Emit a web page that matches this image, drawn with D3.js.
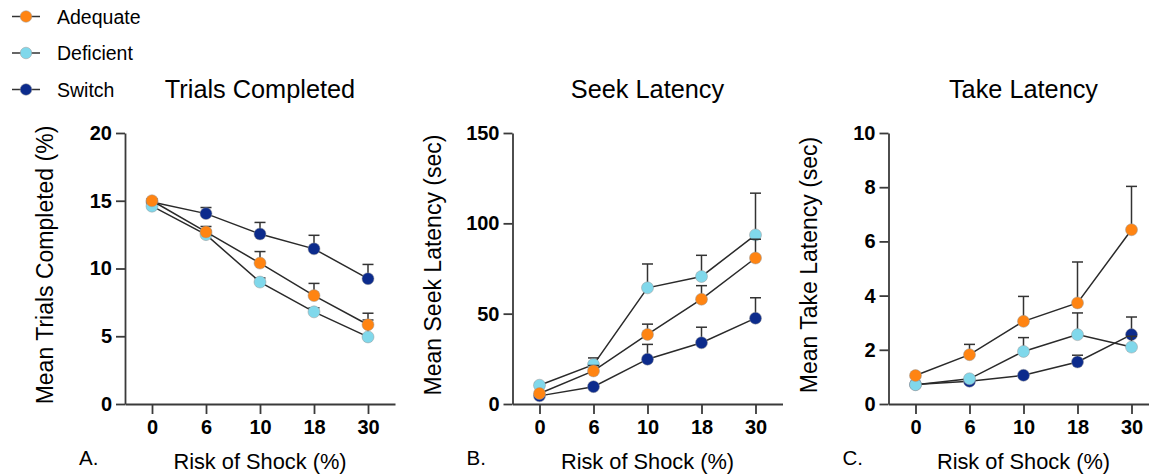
<!DOCTYPE html>
<html>
<head>
<meta charset="utf-8">
<script src="https://cdn.jsdelivr.net/npm/d3@7"></script>
<style>
  body { margin: 0; background: #fff; }
  svg { font-family: "Liberation Sans", Arial, sans-serif; display: block; }
  .axis path, .axis line { stroke: #3a3a3a; stroke-width: 1.8; }
  .axis text { font-size: 20px; font-weight: bold; fill: #000; font-family: "Liberation Sans", Arial, sans-serif; }
</style>
</head>
<body>
<div class="canvas"></div>
<script>
// categories (risk of shock, %)
const risk = ['0', '6', '10', '18', '30'];

// series names + colors
const groups = ['Adequate', 'Deficient', 'Switch'];
const colors = { Adequate: '#ff8412', Deficient: '#80d8eb', Switch: '#0c2b8c' };

// A. trials completed (mean, sem)
const trialsAdequate = [15.0, 12.7, 10.4, 8.0, 5.85];
const trialsAdequateSem = [0.15, 0.4, 0.85, 0.9, 0.85];
const trialsDeficient = [14.6, 12.5, 9.0, 6.8, 4.95];
const trialsDeficientSem = [0.2, 0.3, 0.3, 0.3, 1.25];
const trialsSwitch = [14.9, 14.05, 12.55, 11.45, 9.25];
const trialsSwitchSem = [0.1, 0.45, 0.85, 1.0, 1.05];

// B. seek latency
const seekAdequate = [5.8, 18.3, 38.5, 58, 80.8];
const seekAdequateSem = [1, 3, 5.7, 7.5, 10.4];
const seekDeficient = [10.4, 21.8, 64.3, 70.6, 93.6];
const seekDeficientSem = [1, 3.7, 13.2, 11.7, 23.1];
const seekSwitch = [4.5, 9.6, 24.8, 33.9, 47.5];
const seekSwitchSem = [0.5, 1, 8.2, 8.6, 11.3];

// C. take latency
const takeAdequate = [1.05, 1.82, 3.05, 3.73, 6.43];
const takeAdequateSem = [0.05, 0.38, 0.92, 1.51, 1.6];
const takeDeficient = [0.71, 0.93, 1.94, 2.56, 2.1];
const takeDeficientSem = [0.03, 0.05, 0.51, 0.8, 0.4];
const takeSwitch = [0.72, 0.84, 1.06, 1.55, 2.56];
const takeSwitchSem = [0.03, 0.05, 0.05, 0.25, 0.65];

const yTicksTrials = [0, 5, 10, 15, 20];
const yTicksSeek = [0, 50, 100, 150];
const yTicksTake = [0, 2, 4, 6, 8, 10];

let width = 1149, height = 474;
let plotTop = 133, plotH = 271, plotW = 270;

const svg = d3.select('.canvas')
    .append('svg')
    .attr('width', width)
    .attr('height', height);

// legend
groups.forEach((g, i) => {
    let ly = 16.5 + i * 36.5;
    let lg = svg.append('g').attr('transform', `translate(0, ${ly})`);
    lg.append('line')
        .attr('x1', 12).attr('x2', 40)
        .attr('stroke', '#333').attr('stroke-width', 1.5);
    lg.append('circle')
        .attr('cx', 26).attr('r', 5.8)
        .attr('fill', colors[g]).attr('stroke', '#999').attr('stroke-width', 0.5);
    lg.append('text')
        .attr('x', 57).attr('y', 7)
        .attr('font-size', '19.5px')
        .attr('fill', '#000')
        .text(g);
});

const panels = [
    {
        left: 125, title: 'Trials Completed', ylab: 'Mean Trials Completed (%)', letter: 'A.',
        max: 20, ticks: yTicksTrials,
        series: { Adequate: [trialsAdequate, trialsAdequateSem], Deficient: [trialsDeficient, trialsDeficientSem], Switch: [trialsSwitch, trialsSwitchSem] }
    },
    {
        left: 512.5, title: 'Seek Latency', ylab: 'Mean Seek Latency (sec)', letter: 'B.',
        max: 150, ticks: yTicksSeek,
        series: { Adequate: [seekAdequate, seekAdequateSem], Deficient: [seekDeficient, seekDeficientSem], Switch: [seekSwitch, seekSwitchSem] }
    },
    {
        left: 888.5, title: 'Take Latency', ylab: 'Mean Take Latency (sec)', letter: 'C.',
        max: 10, ticks: yTicksTake,
        series: { Adequate: [takeAdequate, takeAdequateSem], Deficient: [takeDeficient, takeDeficientSem], Switch: [takeSwitch, takeSwitchSem] }
    }
];

panels.forEach(p => {
    const g = svg.append('g').attr('transform', `translate(${p.left}, ${plotTop})`);

    const x = d3.scalePoint().domain(risk).range([0, plotW]).padding(0.5);
    const y = d3.scaleLinear().domain([0, p.max]).range([plotH, 0]);

    g.append('g')
        .attr('class', 'axis')
        .attr('transform', `translate(0, ${plotH})`)
        .call(d3.axisBottom(x).tickSize(10).tickSizeOuter(0).tickPadding(6));

    g.append('g')
        .attr('class', 'axis')
        .call(d3.axisLeft(y).tickValues(p.ticks).tickSize(9).tickSizeOuter(0).tickPadding(4));

    // draw order: switch, deficient, adequate on top
    ['Switch', 'Deficient', 'Adequate'].forEach(name => {
        const [vals, sem] = p.series[name];
        const pts = risk.map((r, i) => ({ r: r, v: vals[i], e: sem[i] }));

        const eb = g.append('g');
        eb.selectAll('line.v')
            .data(pts).enter().append('line')
            .attr('x1', d => x(d.r)).attr('x2', d => x(d.r))
            .attr('y1', d => y(d.v)).attr('y2', d => y(d.v + d.e))
            .attr('stroke', '#333').attr('stroke-width', 1.5);
        eb.selectAll('line.c')
            .data(pts).enter().append('line')
            .attr('x1', d => x(d.r) - 5.5).attr('x2', d => x(d.r) + 5.5)
            .attr('y1', d => y(d.v + d.e)).attr('y2', d => y(d.v + d.e))
            .attr('stroke', '#333').attr('stroke-width', 1.5);

        g.append('path')
            .datum(pts)
            .attr('fill', 'none')
            .attr('stroke', '#2a2a2a')
            .attr('stroke-width', 1.5)
            .attr('d', d3.line().x(d => x(d.r)).y(d => y(d.v)));

        g.selectAll(null)
            .data(pts).enter().append('circle')
            .attr('cx', d => x(d.r))
            .attr('cy', d => y(d.v))
            .attr('r', 6)
            .attr('fill', colors[name])
            .attr('stroke', '#999')
            .attr('stroke-width', 0.5);
    });

    // titles and labels
    g.append('text')
        .attr('x', plotW / 2).attr('y', 98 - plotTop)
        .attr('text-anchor', 'middle')
        .attr('font-size', '25.3px')
        .text(p.title);

    g.append('text')
        .attr('x', plotW / 2).attr('y', 469 - plotTop)
        .attr('text-anchor', 'middle')
        .attr('font-size', '21.8px')
        .text('Risk of Shock (%)');

    g.append('text')
        .attr('x', -46).attr('y', 465 - plotTop)
        .attr('font-size', '20.5px')
        .text(p.letter);

    g.append('text')
        .attr('transform', 'rotate(-90)')
        .attr('x', -(265 - plotTop)).attr('y', -72)
        .attr('text-anchor', 'middle')
        .attr('font-size', '23px')
        .text(p.ylab);
});
</script>
</body>
</html>
